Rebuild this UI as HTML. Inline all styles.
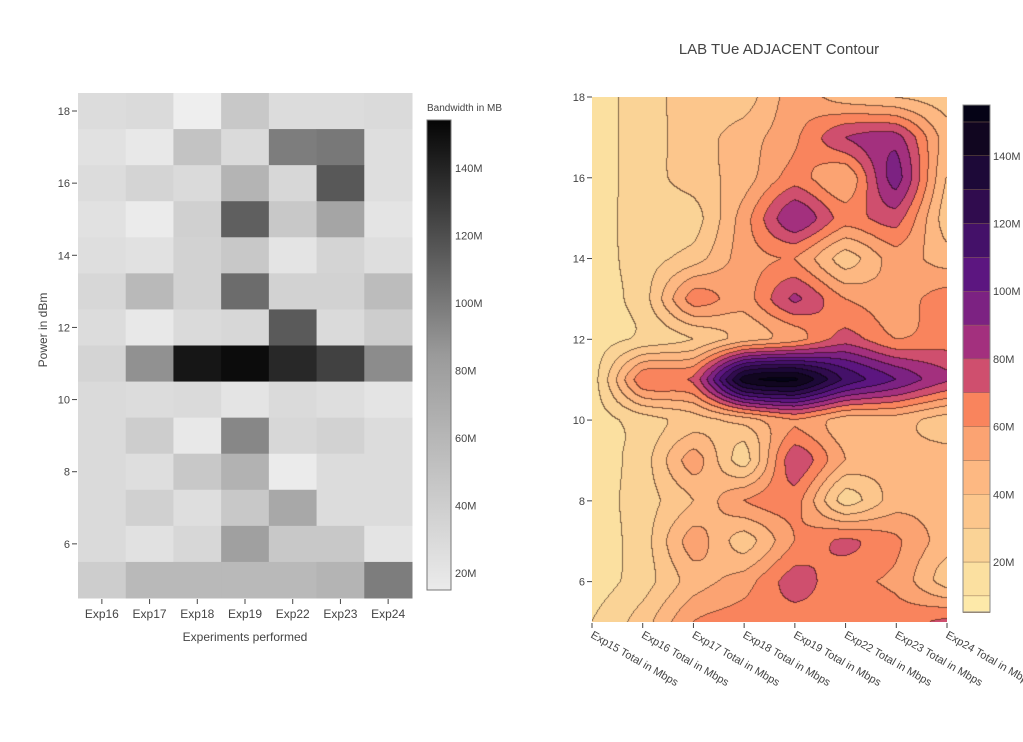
<!DOCTYPE html>
<html><head><meta charset="utf-8">
<style>
body{margin:0;background:#fff;width:1023px;height:742px;overflow:hidden;position:relative;font-family:"Liberation Sans",sans-serif;}
svg{position:absolute;left:0;top:0}
canvas{position:absolute;left:592px;top:97px}
</style></head><body>
<svg id="s" width="1023" height="742" xmlns="http://www.w3.org/2000/svg" font-family="Liberation Sans, sans-serif"></svg>
<canvas id="c" width="355" height="525"></canvas>
<script>
var G=[
[220,218,238,200,220,220,218],
[225,232,195,218,125,120,222],
[220,212,218,180,215,88,222],
[225,235,208,95,200,165,228],
[222,225,210,200,228,212,222],
[215,185,210,108,210,210,188],
[220,232,218,215,90,218,205],
[212,145,22,12,40,65,140],
[218,220,218,228,218,222,228],
[218,205,232,135,215,210,220],
[218,222,200,178,235,220,220],
[218,208,222,200,168,220,220],
[218,225,215,160,200,200,228],
[205,185,185,185,185,180,125]];
var s=document.getElementById('s'),h='';
var cw=(412-78)/7,rh=(598-93)/14;
for(var r=0;r<14;r++)for(var c=0;c<7;c++){var g=G[r][c];
h+='<rect x="'+(78+c*cw)+'" y="'+(93+r*rh)+'" width="'+(cw+0.5)+'" height="'+(rh+0.5)+'" fill="rgb('+g+','+g+','+g+')"/>';}
for(var v=6;v<=18;v+=2){var y=111+(18-v)*rh;
h+='<line x1="72" x2="77" y1="'+y+'" y2="'+y+'" stroke="#444"/><text x="70" y="'+(y+4)+'" font-size="11" fill="#444" text-anchor="end">'+v+'</text>';}
var ex=['Exp16','Exp17','Exp18','Exp19','Exp22','Exp23','Exp24'];
for(var c=0;c<7;c++){var x=78+(c+0.5)*cw;
h+='<line x1="'+x+'" x2="'+x+'" y1="599" y2="604" stroke="#444"/><text x="'+x+'" y="618" font-size="12" fill="#444" text-anchor="middle">'+ex[c]+'</text>';}
h+='<text x="245" y="641" font-size="12" fill="#444" text-anchor="middle">Experiments performed</text>';
h+='<text transform="translate(47,330) rotate(-90)" font-size="12" fill="#444" text-anchor="middle">Power in dBm</text>';
h+='<defs><linearGradient id="gg" x1="0" y1="1" x2="0" y2="0"><stop offset="0" stop-color="#ebebeb"/><stop offset="0.5" stop-color="#9a9a9a"/><stop offset="1" stop-color="#050505"/></linearGradient></defs>';
h+='<rect x="427" y="120" width="24" height="470" fill="url(#gg)" stroke="#777" stroke-width="1"/>';
h+='<text x="427" y="111" font-size="10" fill="#444">Bandwidth in MB</text>';
for(var m=20;m<=140;m+=20){var y=573-(m-20)/20*67.5;h+='<text x="455" y="'+(y+4)+'" font-size="11" fill="#444">'+m+'M</text>';}
h+='<text x="779" y="54" font-size="15" fill="#444" text-anchor="middle">LAB TUe ADJACENT Contour</text>';
var rs=525/13;
for(var v=6;v<=18;v+=2){var y=97+(18-v)*rs;
h+='<line x1="587" x2="592" y1="'+y+'" y2="'+y+'" stroke="#444"/><text x="585" y="'+(y+4)+'" font-size="11" fill="#444" text-anchor="end">'+v+'</text>';}
var ex2=['Exp15','Exp16','Exp17','Exp18','Exp19','Exp22','Exp23','Exp24'];
for(var c=0;c<8;c++){var x=592+c*355/7;
h+='<line x1="'+x+'" x2="'+x+'" y1="623" y2="628" stroke="#444"/><text transform="translate('+(x-2)+',637) rotate(30)" font-size="11" fill="#444">'+ex2[c]+'  Total in Mbps</text>';}
var cols=['#fde9a9','#fbe0a0','#fad396','#fcc68c','#fdb882','#fba372','#f9845d','#cf4f6e','#a3307e','#7c2282','#5c1680','#441169','#300c4e','#1d0938','#110620','#050316'];
var cb='';
for(var i=0;i<16;i++){var lo=Math.max(5,i*10),hi=Math.min(155,i*10+10);
var y1=562-(hi-20)*67.7/20,y2=562-(lo-20)*67.7/20;
cb+='<rect x="963" y="'+y1+'" width="27" height="'+(y2-y1)+'" fill="'+cols[i]+'" stroke="#8a6a50" stroke-width="0.4"/>';}
h+=cb+'<rect x="963" y="105" width="27" height="507" fill="none" stroke="#888"/>';
for(var m=20;m<=140;m+=20){var y=562-(m-20)*67.7/20;h+='<text x="993" y="'+(y+4)+'" font-size="11" fill="#444">'+m+'M</text>';}
s.innerHTML=h;
var D=[
[15,25,35,35,55,45,40,35],
[15,25,35,45,58,80,85,45],
[15,25,35,45,65,50,95,40],
[15,25,25,55,90,65,75,35],
[15,25,35,55,60,35,55,45],
[15,25,65,55,82,60,55,65],
[15,22,30,45,55,75,60,65],
[15,68,72,145,152,118,100,82],
[15,25,35,45,60,45,45,35],
[15,25,55,25,78,50,45,45],
[15,25,40,60,65,25,45,45],
[15,25,55,35,60,72,62,45],
[15,25,45,55,75,62,58,35],
[20,35,60,65,65,65,65,72]];
function gv(r,c){r=Math.max(0,Math.min(13,r));c=Math.max(0,Math.min(7,c));return D[r][c];}
function cr(p0,p1,p2,p3,t){return 0.5*((2*p1)+(-p0+p2)*t+(2*p0-5*p1+4*p2-p3)*t*t+(-p0+3*p1-3*p2+p3)*t*t*t);}
function val(fx,fy){var c=Math.floor(fx),r=Math.floor(fy),tx=fx-c,ty=fy-r,a=[];
for(var j=-1;j<3;j++)a.push(cr(gv(r+j,c-1),gv(r+j,c),gv(r+j,c+1),gv(r+j,c+2),tx));
var bc=cr(a[0],a[1],a[2],a[3],ty);
var bl=(gv(r,c)*(1-tx)+gv(r,c+1)*tx)*(1-ty)+(gv(r+1,c)*(1-tx)+gv(r+1,c+1)*tx)*ty;
return 0.5*bc+0.5*bl;}
var cv=document.getElementById('c'),ctx=cv.getContext('2d'),W=355,H=525;
var im=ctx.createImageData(W,H),B=new Int8Array(W*H);
for(var y=0;y<H;y++)for(var x=0;x<W;x++){var v=val(x/(W-1)*7,y/(H-1)*13);var b=Math.floor(v/10);if(b<0)b=0;if(b>15)b=15;B[y*W+x]=b;}
function hx(c){return [parseInt(c.substr(1,2),16),parseInt(c.substr(3,2),16),parseInt(c.substr(5,2),16)];}
var P=cols.map(hx);
for(var y=0;y<H;y++)for(var x=0;x<W;x++){var i=y*W+x,b=B[i],p=P[b];
var edge=(x<W-1&&B[i+1]!=b)||(y<H-1&&B[i+W]!=b);
var k=i*4;if(edge){im.data[k]=p[0]*0.5;im.data[k+1]=p[1]*0.45;im.data[k+2]=p[2]*0.45;}else{im.data[k]=p[0];im.data[k+1]=p[1];im.data[k+2]=p[2];}
im.data[k+3]=255;}
ctx.putImageData(im,0,0);
</script>
</body></html>
